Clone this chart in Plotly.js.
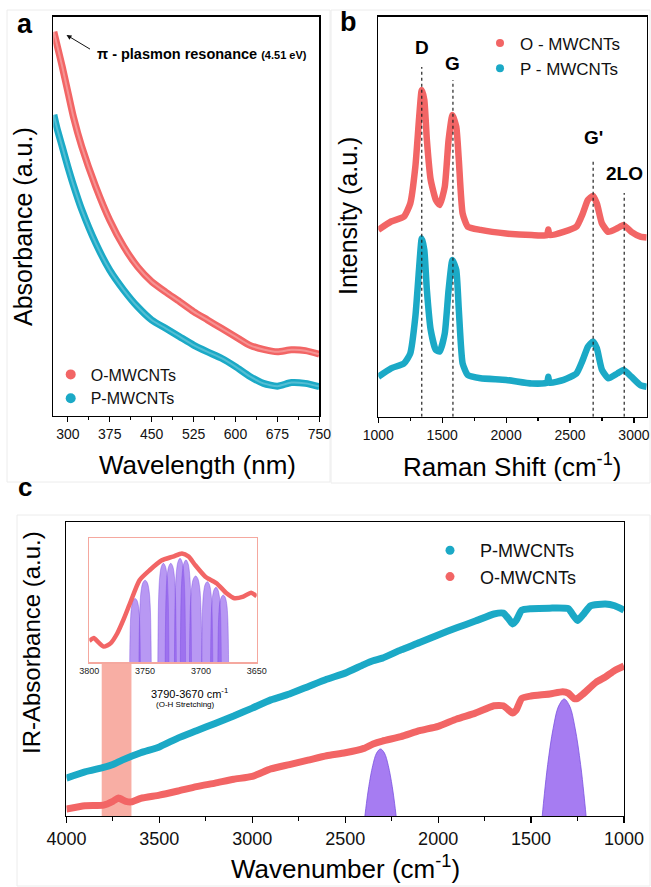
<!DOCTYPE html>
<html><head><meta charset="utf-8">
<script src="https://cdn.plot.ly/plotly-3.0.1.min.js"></script>
<style>html,body{margin:0;padding:0;background:#fff}#chart{width:651px;height:887px}</style>
</head><body><div id="chart"></div>
<script>
// ---------- Panel a : UV-Vis ----------
const uvWavelength = [275,280,290,300,310,325,350,375,400,425,450,475,500,525,550,575,600,625,650,675,700,725,750];
const uvO = [96.2,93.3,87.5,81.2,74.9,67.4,57.4,49,42.4,37.3,33.6,31.0,28.6,26.1,24,21.9,19.8,17.7,16.6,16,16.5,16.3,15.4];
const uvP = [75.4,72.4,67.4,62.4,57.8,51.6,43.2,36.5,31.5,27.3,24,21.9,19.8,17.7,16,14.4,12.3,9.9,8.1,7.4,8.3,8.1,7.3];

// ---------- Panel b : Raman ----------
const ramanShift = [1000,1100,1200,1250,1290,1320,1340,1360,1380,1410,1450,1480,1520,1550,1580,1610,1630,1660,1700,1800,2000,2200,2320,2330,2340,2450,2550,2600,2640,2680,2710,2750,2800,2870,2920,2980,3050,3100];
const ramanO = [46.7,48.8,50,53.3,62.5,75,81.7,79.2,69.2,59.2,54.2,52.9,57.5,69.2,75.4,72.5,64.2,50.8,47.5,46.7,45.8,45.4,45.4,46.8,45.4,46.2,47.5,50.8,54.2,55.2,53.3,48.3,46.2,47.1,47.9,46.2,45,44.8];
const ramanP = [10,12.1,13.3,15.8,25,37.5,44.6,41.7,31.7,21.7,16.7,16.3,20.8,31.7,39.2,36.7,26.7,13.3,10.4,9.6,9.2,8.3,8.5,10,8.5,9.2,10.8,14.2,17.5,18.8,17.1,11.7,9.6,10.8,11.7,10,7.9,7.5];
const bandNames = ['D','G',"G'",'2LO'];
const bandPos = [1340,1584,2681,2924];
const bandLineTop = [87.4,84.2,64.4,55.9];
const bandLabelY = [92.4,88.4,69.9,60.9];

// ---------- Panel c : FTIR ----------
const irWnP = [4000,3900,3800,3750,3700,3600,3500,3400,3300,3200,3100,3000,2900,2800,2700,2600,2500,2400,2350,2300,2200,2100,2000,1900,1800,1700,1650,1620,1600,1580,1550,1500,1400,1300,1270,1250,1220,1180,1100,1050,1000];
const irP = [12.9,15.0,16.5,17.5,19.0,21.5,23.5,26.5,29.0,31.5,34.0,36.7,39.5,41.5,44.0,46.5,48.6,51.5,52.8,53.7,56.5,59.0,61.6,64.0,66.3,68.7,69.0,67.0,65.3,66.5,70.0,70.5,70.7,70.5,68.0,66.5,68.5,71.5,72.1,71.5,70.0];
const irWnO = [4000,3900,3800,3750,3720,3680,3650,3600,3500,3400,3300,3200,3100,3000,2900,2800,2700,2600,2500,2400,2350,2300,2200,2100,2000,1900,1800,1700,1650,1620,1600,1580,1550,1500,1400,1330,1300,1270,1250,1220,1150,1100,1050,1000];
const irO = [2.4,3.5,3.7,5.0,6.1,5.0,4.8,6.0,7.1,8.5,10.0,11.2,12.5,13.5,16.0,17.5,19.0,20.5,21.5,23.0,24.5,25.5,27.0,29.0,30.5,33.0,35.0,37.5,37.5,36.0,35.0,36.0,40.0,40.8,41.5,42.3,41.8,40.0,40.0,41.5,45.5,47.3,49.5,51.0];
const irPeakCenter = [2310,1322];
const irPeakHeight = [22.8,39.8];
const irPeakHalfWidth = [84,118];
const ohBand = [3810,3650];
const ohBandTop = 52;

// inset (O-H stretching region)
const insetWn = [3800,3796,3792,3787,3781,3775,3769,3763,3755,3746,3735,3725,3717,3711,3705,3696,3686,3677,3670,3662,3655,3650];
const insetO = [17,19.4,16,12.4,15,23,35,48.6,66,74,82,85,87.6,85,78,68.8,63.5,55.4,51.4,52.7,55.9,53];
const insetPeakCenter = [3759,3750,3733.6,3727,3718.7,3713.4,3704.7,3694.3,3686.5,3680];
const insetPeakHeight = [51.3,66,79.6,79.6,83.6,82.3,69.4,64.8,60.2,54];
const insetPeakHalfWidth = [4.8,5.5,5,5,5,5,5.5,5,4.8,4.8];

// peak outline templates (relative shape)
const domeX = [-1,-0.9,-0.75,-0.5,-0.25,0,0.25,0.5,0.75,0.9,1];
const domeY = [0,0.19,0.44,0.75,0.94,1,0.94,0.75,0.44,0.19,0];
const narrowX = [-1,-0.95,-0.85,-0.65,-0.35,0,0.35,0.65,0.85,0.95,1];
const narrowY = [0,0.35,0.66,0.87,0.97,1,0.97,0.87,0.66,0.35,0];

const RED = '#f26565', BLUE = '#1ba9c6';
const FONT = 'Arial, "Liberation Sans", Helvetica, sans-serif';
const W = 651, H = 887;
const px = v => v / W, py = v => 1 - v / H;

const traces = [];
// panel a
traces.push({x: uvWavelength, y: uvO, xaxis:'x', yaxis:'y', mode:'lines', line:{color:RED, width:7, shape:'spline', smoothing:0.6}, showlegend:false, hoverinfo:'skip'});
traces.push({x: uvWavelength, y: uvO, xaxis:'x', yaxis:'y', mode:'lines', line:{color:'rgba(255,255,255,0.3)', width:2, shape:'spline', smoothing:0.6}, showlegend:false, hoverinfo:'skip'});
traces.push({x: uvWavelength, y: uvP, xaxis:'x', yaxis:'y', mode:'lines', line:{color:BLUE, width:7, shape:'spline', smoothing:0.6}, showlegend:false, hoverinfo:'skip'});
traces.push({x: uvWavelength, y: uvP, xaxis:'x', yaxis:'y', mode:'lines', line:{color:'rgba(255,255,255,0.25)', width:2, shape:'spline', smoothing:0.6}, showlegend:false, hoverinfo:'skip'});
traces.push({x:[null], y:[null], xaxis:'x', yaxis:'y', mode:'markers', name:'O-MWCNTs', marker:{color:RED, size:10}, legend:'legend'});
traces.push({x:[null], y:[null], xaxis:'x', yaxis:'y', mode:'markers', name:'P-MWCNTs', marker:{color:BLUE, size:10}, legend:'legend'});
// panel b
traces.push({x: ramanShift, y: ramanO, xaxis:'x2', yaxis:'y2', mode:'lines', line:{color:RED, width:6.5, shape:'spline', smoothing:0.5}, showlegend:false, hoverinfo:'skip'});
traces.push({x: ramanShift, y: ramanP, xaxis:'x2', yaxis:'y2', mode:'lines', line:{color:BLUE, width:6.5, shape:'spline', smoothing:0.5}, showlegend:false, hoverinfo:'skip'});
traces.push({x:[null], y:[null], xaxis:'x2', yaxis:'y2', mode:'markers', name:'O - MWCNTs', marker:{color:RED, size:8}, legend:'legend2'});
traces.push({x:[null], y:[null], xaxis:'x2', yaxis:'y2', mode:'markers', name:'P - MWCNTs', marker:{color:BLUE, size:8}, legend:'legend2'});
// panel c peaks
for (let i = 0; i < irPeakCenter.length; i++) {
  traces.push({x: domeX.map(d => irPeakCenter[i] + d*irPeakHalfWidth[i]), y: domeY.map(d => d*irPeakHeight[i]),
    xaxis:'x3', yaxis:'y3', mode:'lines', fill:'toself', fillcolor:'#a67cf2', line:{color:'#7a52e0', width:0.8, shape:'spline'}, showlegend:false, hoverinfo:'skip'});
}
traces.push({x: irWnP, y: irP, xaxis:'x3', yaxis:'y3', mode:'lines', line:{color:BLUE, width:7, shape:'spline', smoothing:0.5}, showlegend:false, hoverinfo:'skip'});
traces.push({x: irWnO, y: irO, xaxis:'x3', yaxis:'y3', mode:'lines', line:{color:RED, width:7, shape:'spline', smoothing:0.5}, showlegend:false, hoverinfo:'skip'});
traces.push({x:[null], y:[null], xaxis:'x3', yaxis:'y3', mode:'markers', name:'P-MWCNTs', marker:{color:BLUE, size:9}, legend:'legend3'});
traces.push({x:[null], y:[null], xaxis:'x3', yaxis:'y3', mode:'markers', name:'O-MWCNTs', marker:{color:RED, size:9}, legend:'legend3'});
// inset
for (let i = 0; i < insetPeakCenter.length; i++) {
  traces.push({x: narrowX.map(d => insetPeakCenter[i] + d*insetPeakHalfWidth[i]), y: narrowY.map(d => d*insetPeakHeight[i]),
    xaxis:'x4', yaxis:'y4', mode:'lines', fill:'toself', fillcolor:'rgba(140,88,236,0.62)', line:{color:'rgba(120,70,225,0.7)', width:0.6, shape:'spline'}, showlegend:false, hoverinfo:'skip'});
}
traces.push({x: insetWn, y: insetO, xaxis:'x4', yaxis:'y4', mode:'lines', line:{color:RED, width:4.5, shape:'spline', smoothing:0.6}, showlegend:false, hoverinfo:'skip'});

const axBase = {showgrid:false, zeroline:false, showline:true, mirror:true, linecolor:'#000', linewidth:1.3, ticks:'outside', ticklen:5, tickwidth:1.2, tickcolor:'#000', tickfont:{size:14, color:'#111', family:FONT}};
const yBase = {showgrid:false, zeroline:false, showline:true, mirror:true, linecolor:'#000', linewidth:1.3, ticks:'', showticklabels:false, range:[0,100], fixedrange:true};

const shapes = [];
// faint panel frames
shapes.push({type:'rect', xref:'paper', yref:'paper', x0:px(7), x1:px(330), y0:py(482), y1:py(10), line:{color:'#ececec', width:1}, layer:'below'});
shapes.push({type:'rect', xref:'paper', yref:'paper', x0:px(331), x1:px(650), y0:py(483), y1:py(10), line:{color:'#ececec', width:1}, layer:'below'});
shapes.push({type:'rect', xref:'paper', yref:'paper', x0:px(17), x1:px(650), y0:py(886), y1:py(515), line:{color:'#ececec', width:1}, layer:'below'});
// band markers panel b
bandPos.forEach((p, i) => shapes.push({type:'line', xref:'x2', yref:'y2', x0:p, x1:p, y0:0, y1:bandLineTop[i], line:{color:'#222', width:1.2, dash:'dot'}}));
// O-H band highlight
shapes.push({type:'rect', xref:'x3', yref:'y3', x0:ohBand[0], x1:ohBand[1], y0:0, y1:ohBandTop, fillcolor:'#f8aea4', line:{width:0}, layer:'below'});

const annotations = [];
const lbl = (t, x, y, size, extra) => annotations.push(Object.assign({text:t, xref:'paper', yref:'paper', x:px(x), y:py(y), showarrow:false, xanchor:'center', yanchor:'middle', font:{size:size, color:'#000', family:FONT}}, extra||{}));
lbl('<b>a</b>', 25, 24, 27);
lbl('<b>b</b>', 348, 22, 27);
lbl('<b>c</b>', 25, 487, 26);
lbl('Absorbance (a.u.)', 23, 227, 25, {textangle:-90});
lbl('Wavelength (nm)', 197, 465, 26);
lbl('Intensity (a.u.)', 348, 216, 25, {textangle:-90});
lbl('Raman Shift (cm<sup>-1</sup>)', 512, 465, 26);
lbl('IR-Absorbance (a.u.)', 31, 643, 24, {textangle:-90});
lbl('Wavenumber (cm<sup>-1</sup>)', 345, 867, 26);
lbl('<b>π - plasmon resonance <span style="font-size:11px">(4.51 eV)</span></b>', 95, 54, 14.5, {xanchor:'left'});
annotations.push({text:'', xref:'paper', yref:'paper', x:px(66.5), y:py(35), ax:25, ay:15, showarrow:true, arrowhead:2, arrowsize:1, arrowwidth:1, arrowcolor:'#111'});
bandNames.forEach((n, i) => annotations.push({text:'<b>'+n+'</b>', xref:'x2', yref:'y2', x:bandPos[i], y:bandLabelY[i], showarrow:false, xanchor:'center', yanchor:'middle', font:{size:19, color:'#000', family:FONT}}));
lbl('3790-3670 cm<sup>-1</sup>', 189, 693, 11);
lbl('(O-H Stretching)', 185, 704, 8);

const legBase = {bgcolor:'rgba(0,0,0,0)', borderwidth:0, xanchor:'left', yanchor:'top', traceorder:'normal'};

const layout = {
  width:W, height:H, margin:{l:0, r:0, t:0, b:0}, paper_bgcolor:'#fff', plot_bgcolor:'rgba(0,0,0,0)',
  font:{family:FONT, color:'#000'},
  showlegend:true,
  xaxis: Object.assign({}, axBase, {domain:[px(53.3), px(319.3)], range:[274,750], anchor:'y', tick0:300, dtick:75, minor:{dtick:37.5, tick0:300, ticks:'outside', ticklen:3, tickcolor:'#000'}}),
  yaxis: Object.assign({}, yBase, {domain:[py(415.7), py(16.7)], anchor:'x'}),
  xaxis2: Object.assign({}, axBase, {domain:[px(378.3), px(646.7)], range:[1000,3100], anchor:'y2', tick0:1000, dtick:500, minor:{dtick:250, ticks:'outside', ticklen:3, tickcolor:'#000'}}),
  yaxis2: Object.assign({}, yBase, {domain:[py(416.7), py(16.7)], anchor:'x2'}),
  xaxis3: Object.assign({}, axBase, {domain:[px(66.4), px(624)], range:[4000,1000], anchor:'y3', tick0:1000, dtick:500, ticklen:6, tickfont:{size:18, color:'#111', family:FONT}, minor:{dtick:250, ticks:'outside', ticklen:4, tickcolor:'#000'}}),
  yaxis3: Object.assign({}, yBase, {domain:[py(816), py(522)], anchor:'x3'}),
  xaxis4: {domain:[px(89.3), px(256.7)], range:[3800,3650], anchor:'y4', showgrid:false, zeroline:false, showline:true, mirror:true, linecolor:'#f5a89f', linewidth:1.5, ticks:'', tickmode:'array', tickvals:[3800,3750,3700,3650], tickfont:{size:9, color:'#222', family:FONT}},
  yaxis4: {domain:[py(662), py(538)], range:[0,100], anchor:'x4', showgrid:false, zeroline:false, showline:true, mirror:true, linecolor:'#f5a89f', linewidth:1.5, ticks:'', showticklabels:false},
  legend: Object.assign({}, legBase, {x:px(50.7), y:py(357.5), font:{size:16, color:'#111', family:FONT}}),
  legend2: Object.assign({}, legBase, {x:px(480), y:py(25.5), font:{size:17, color:'#111', family:FONT}}),
  legend3: Object.assign({}, legBase, {x:px(420), y:py(532), itemwidth:50, font:{size:18, color:'#111', family:FONT}}),
  shapes: shapes,
  annotations: annotations
};

Plotly.newPlot('chart', traces, layout, {displayModeBar:false, staticPlot:true});
</script>
</body></html>
